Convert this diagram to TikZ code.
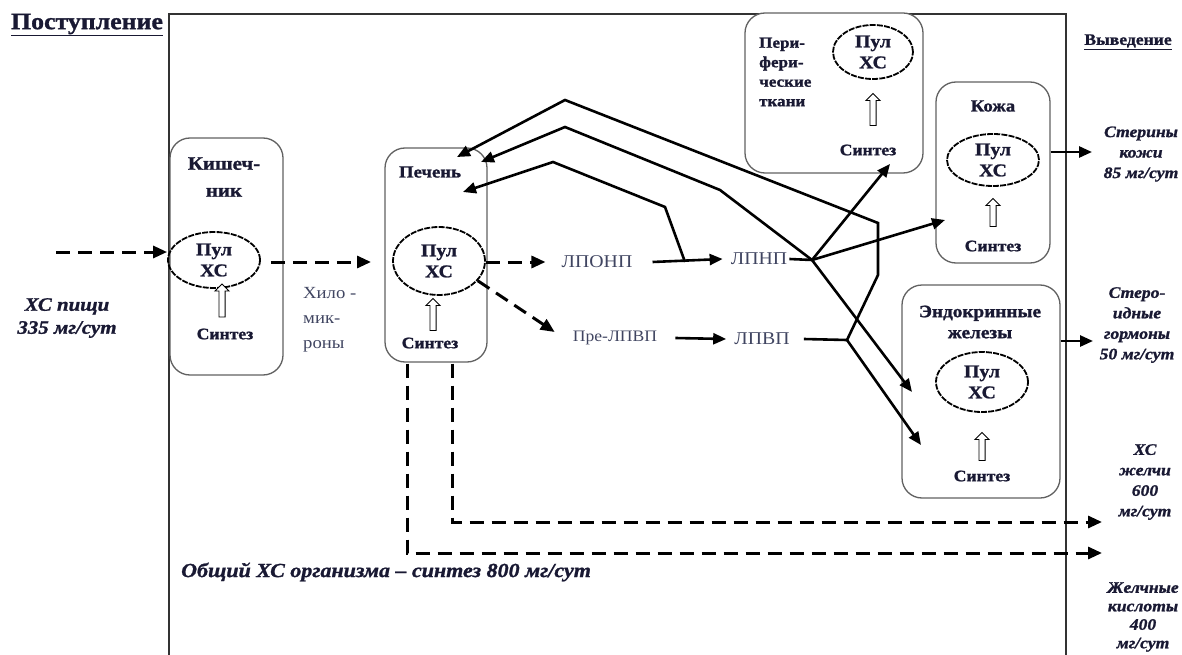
\documentclass[tikz,border=0pt]{standalone}
\usepackage{fontspec}
\setmainfont{Liberation Serif}[FakeStretch=1.1, BoldFeatures={FakeBold=1.2}, BoldItalicFeatures={FakeBold=1.2}]
\usetikzlibrary{arrows.meta,shapes.geometric,shapes.arrows}
\definecolor{ink}{rgb}{0.1,0.1,0.2}
\definecolor{lp}{rgb}{0.25,0.27,0.38}
\definecolor{boxc}{rgb}{0.38,0.38,0.38}
\definecolor{framec}{rgb}{0.2,0.2,0.2}
\begin{document}
\begin{tikzpicture}[x=1pt,y=-1pt,
  organ/.style={draw=boxc, line width=1.3pt, rounded corners=20pt, inner sep=0pt, fill=white},
  pool/.style={ellipse, draw=black, line width=1.8pt, dash pattern=on 6pt off 1.2pt, inner sep=0pt, align=center,
    font=\bfseries\fontsize{18}{21}\selectfont, text=ink},
  synarr/.style={single arrow, draw=black, line width=0.9pt, fill=white, rotate=90, minimum width=14pt,
    inner sep=2.6pt, single arrow head extend=4pt},
  title/.style={font=\bfseries\fontsize{17}{26}\selectfont, text=ink, align=center, inner sep=0pt},
  syn/.style={font=\bfseries\fontsize{16}{18}\selectfont, text=ink, inner sep=0pt},
  lpt/.style={font=\fontsize{18}{20}\selectfont, text=lp, inner sep=0pt},
  itl/.style={font=\bfseries\itshape\fontsize{16}{20.5}\selectfont, text=ink, align=center, inner sep=0pt},
  conn/.style={line width=2.6pt, draw=black, -{Triangle[length=13pt,width=11pt]}},
  plain/.style={line width=2.6pt, draw=black},
  dasharr/.style={line width=3pt, draw=black, dash pattern=on 14pt off 8pt, -{Triangle[length=14pt,width=12pt]}}
]
\useasboundingbox (0,0) rectangle (1182,655);

% outer frame
\draw[line width=2pt, draw=framec] (169,655) -- (169,14) -- (1066,14) -- (1066,655);

% headings
\node[font=\bfseries\fontsize{23.5}{26}\selectfont, text=ink, inner sep=0pt] (post) at (87,25) {\underline{Поступление}};
\node[font=\bfseries\fontsize{16}{18}\selectfont, text=ink, inner sep=0pt] (vyv) at (1128,42) {\underline{Выведение}};

% Кишечник
\node[organ, minimum width=113pt, minimum height=237pt] (kish) at (226.5,256.5) {};
\node[title, font=\bfseries\fontsize{19}{27}\selectfont] (kishT) at (224,177) {Кишеч-\\ник};
\node[pool, minimum width=92pt, minimum height=56pt] (kishP) at (214,260) {Пул\\ХС};
\node[synarr, minimum height=33pt] (kishA) at (222,302) {};
\node[syn] (kishS) at (225,334) {Синтез};

% Печень
\node[organ, minimum width=102pt, minimum height=214pt] (liver) at (436,255) {};
\node[title] (liverT) at (430,172) {Печень};
\node[pool, minimum width=92pt, minimum height=68pt] (liverP) at (439,261) {Пул\\ХС};
\node[synarr, minimum height=32pt] (liverA) at (433,316) {};
\node[syn] (liverS) at (430,343) {Синтез};

% Периферические ткани
\node[organ, minimum width=178pt, minimum height=160pt] (per) at (834,93) {};
\node[title, align=left, anchor=west, font=\bfseries\fontsize{15.5}{19.5}\selectfont] (perT) at (759,72) {Пери-\\фери-\\ческие\\ткани};
\node[pool, minimum width=80pt, minimum height=54pt] (perP) at (873,52) {Пул\\ХС};
\node[synarr, minimum height=32pt] (perA) at (873,111) {};
\node[syn] (perS) at (868,150) {Синтез};

% Кожа
\node[organ, minimum width=114pt, minimum height=181pt] (koz) at (993,172.5) {};
\node[title] (kozT) at (993,106) {Кожа};
\node[pool, minimum width=92pt, minimum height=52pt] (kozP) at (993,160) {Пул\\ХС};
\node[synarr, minimum height=28pt] (kozA) at (993,214) {};
\node[syn] (kozS) at (993,246) {Синтез};

% Эндокринные железы
\node[organ, minimum width=158pt, minimum height=213pt] (endo) at (981,391.5) {};
\node[title, font=\bfseries\fontsize{17.5}{21}\selectfont] (endoT) at (980,322) {Эндокринные\\железы};
\node[pool, minimum width=92pt, minimum height=60pt] (endoP) at (982,382) {Пул\\ХС};
\node[synarr, minimum height=28pt] (endoA) at (982,448) {};
\node[syn] (endoS) at (982,476) {Синтез};

% lipoproteins
\node[lpt] (lponp) at (597,262) {ЛПОНП};
\node[lpt] (lpnp) at (759,259) {ЛПНП};
\node[lpt, font=\fontsize{16}{18}\selectfont] (prelpvp) at (615,338) {Пре-ЛПВП};
\node[lpt] (lpvp) at (762,339) {ЛПВП};

% side texts
\node[itl, font=\bfseries\itshape\fontsize{19}{23}\selectfont] (food) at (67,318) {ХС пищи\\335 мг/сут};
\node[font=\fontsize{17}{25}\selectfont, text=lp, align=left, anchor=west, inner sep=0pt] (chylo) at (303,320) {Хило -\\мик-\\роны};
\node[font=\bfseries\itshape\fontsize{20}{22}\selectfont, text=ink, anchor=west, inner sep=0pt] (total) at (181,572) {Общий ХС организма – синтез 800 мг/сут};
\node[itl] (out1) at (1141,154) {Стерины\\кожи\\85 мг/сут};
\node[itl] (out2) at (1137,325) {Стеро-\\идные\\гормоны\\50 мг/сут};
\node[itl] (out3) at (1145,482) {ХС\\желчи\\600\\мг/сут};
\node[itl, font=\bfseries\itshape\fontsize{16}{18.5}\selectfont] (out4) at (1143,617) {Желчные\\кислоты\\400\\мг/сут};

% coordinates
\coordinate (foodIn) at (56,252);
\coordinate (hub) at (812,260);
\coordinate (j1) at (685,262);
\coordinate (j2) at (847,340);
\coordinate (b1) at (665,207);
\coordinate (b2) at (553,162);
\coordinate (c1) at (720,190);
\coordinate (c2) at (565,127);
\coordinate (d1) at (878,275);
\coordinate (d2) at (878,223);
\coordinate (d3) at (565,100);
\coordinate (tipL1) at (457,157);
\coordinate (tipL2) at (481,162);
\coordinate (tipL3) at (463,192);
\coordinate (tipPer) at (890,164);
\coordinate (tipKoz) at (945,220);
\coordinate (tipE1) at (912,392);
\coordinate (tipE2) at (921,445);
\coordinate (bileA) at (452,522);
\coordinate (bileB) at (407,553);
\coordinate (bileAe) at (1102,522);
\coordinate (bileBe) at (1102,553);
\coordinate (outK) at (1092,152);
\coordinate (outE) at (1093,341);

% intake and chylomicrons
\draw[dasharr] (foodIn) -- (kishP.west |- foodIn);
\draw[dasharr] ([xshift=10pt]kishP.east |- 0,262) -- (371,262);

% liver to lipoproteins
\draw[dasharr] (liverP.east |- lponp) -- ([xshift=-16pt]lponp.west);
\draw[conn] ([xshift=20pt]lponp.east) -- ([xshift=-8pt]lpnp.west);
\draw[dasharr] (liverP.-27) -- ([shift={(-18pt,6pt)}]prelpvp.west);
\draw[conn] ([xshift=18pt]prelpvp.east) -- ([xshift=-8pt]lpvp.west);

% LDL hub
\draw[plain] ([xshift=2pt]lpnp.east) -- (hub);
\draw[conn] (hub) -- (tipPer);
\draw[conn] (hub) -- (tipKoz);
\draw[conn] (hub) -- (tipE1);
\draw[conn] (hub) -- (c1) -- (c2) -- (tipL2);

% VLDL return
\draw[conn] (j1) -- (b1) -- (b2) -- (tipL3);

% HDL
\draw[plain] ([xshift=14pt]lpvp.east) -- (j2);
\draw[conn] (j2) -- (d1) -- (d2) -- (d3) -- (tipL1);
\draw[conn] (j2) -- (tipE2);

% outputs
\draw[conn] (koz.east |- outK) -- (outK);
\draw[conn] (endo.east |- outE) -- (outE);

% bile
\draw[dasharr] ([xshift=16pt,yshift=-1pt]liver.south) -- ([xshift=16pt]liver.south |- bileA) -- (bileAe);
\draw[dasharr] ([xshift=-29pt,yshift=-1pt]liver.south) -- ([xshift=-29pt]liver.south |- bileB) -- (bileBe);
\end{tikzpicture}
\end{document}
